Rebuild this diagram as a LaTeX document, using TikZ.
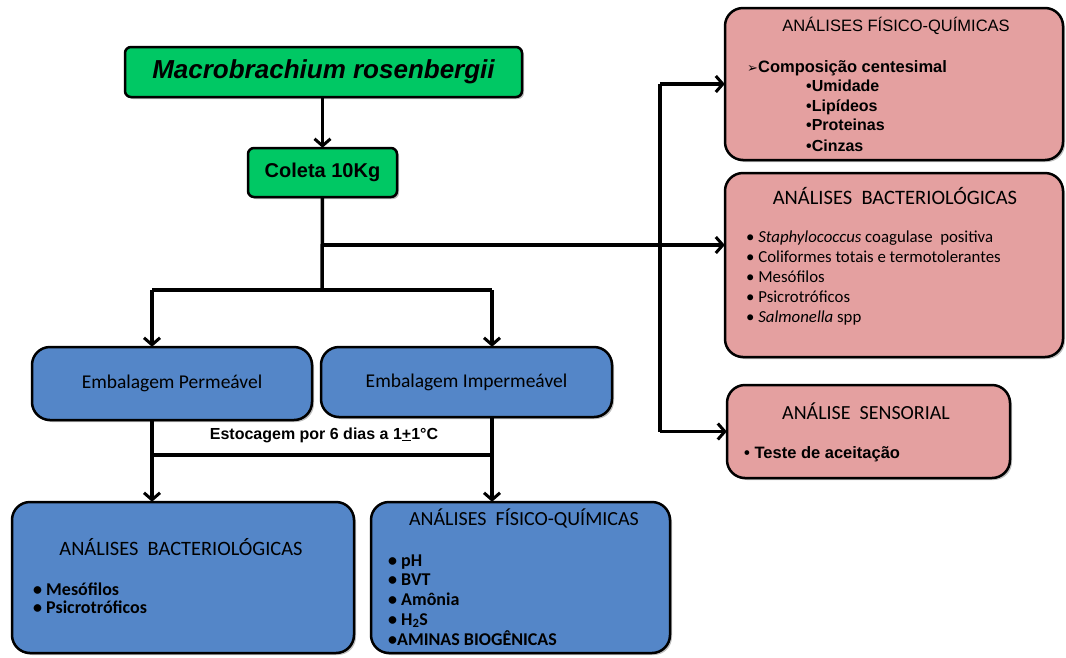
\documentclass[tikz,border=0pt]{standalone}
\usepackage{fontspec}
\setmainfont{Carlito}
\newfontfamily\arial{Liberation Sans}
\newfontfamily\symf{DejaVu Sans}
\usetikzlibrary{arrows.meta,shadows}
\definecolor{grn}{RGB}{0,200,100}
\definecolor{pnk}{RGB}{228,160,160}
\definecolor{blu}{RGB}{84,134,200}
\tikzset{
  box/.style={draw=black, line width=2.5pt, drop shadow={shadow xshift=2pt,shadow yshift=-2pt,opacity=0.5}},
  gbox/.style={box, fill=grn, rounded corners=6pt},
  pbox/.style={box, fill=pnk, rounded corners=18pt},
  bbox/.style={box, fill=blu, rounded corners=18pt},
  conn/.style={line width=3.5pt},
  arr/.style={conn, -{Straight Barb[length=7pt,width=16pt,line width=3pt]}},
  txt/.style={inner sep=0pt, anchor=base west},
  ctxt/.style={inner sep=0pt, anchor=base},
}
\begin{document}
\begin{tikzpicture}[x=1pt,y=-1pt]
\useasboundingbox (0,0) rectangle (1066,657);
% boxes
\path[gbox] (125,47) rectangle (522,97);
\node (macro) at (323.5,72) [minimum width=397pt, minimum height=50pt, inner sep=0pt] {\arial\bfseries\itshape\fontsize{26}{30}\selectfont Macrobrachium rosenbergii};
\path[gbox] (248,148) rectangle (397,197);
\node (coleta) at (322.5,172.5) [minimum width=149pt, minimum height=49pt, inner sep=0pt] {\arial\bfseries\fontsize{20}{24}\selectfont Coleta 10Kg};

\path[pbox] (725,8) rectangle (1063,160);
\node (p1) at (894,84) [minimum width=338pt, minimum height=152pt, inner sep=0pt] {};
\path[pbox] (725,173) rectangle (1063,357);
\node (p2) at (894,265) [minimum width=338pt, minimum height=184pt, inner sep=0pt] {};
\path[pbox] (727,385) rectangle (1010,478);
\node (p3) at (868.5,431.5) [minimum width=283pt, minimum height=93pt, inner sep=0pt] {};

\path[bbox] (32,347) rectangle (312,420);
\node (perm) at (172,383.5) [minimum width=280pt, minimum height=73pt, inner sep=0pt] {\fontsize{19.5}{23}\selectfont Embalagem Permeável};
\path[bbox] (321,347) rectangle (612,417);
\node (imp) at (466.5,382) [minimum width=291pt, minimum height=70pt, inner sep=0pt] {\fontsize{19.5}{23}\selectfont Embalagem Impermeável};

\path[bbox] (12,502) rectangle (354,653);
\node (bac) at (183,577.5) [minimum width=342pt, minimum height=151pt, inner sep=0pt] {};
\path[bbox] (371,502) rectangle (670,653);
\node (fq) at (520.5,577.5) [minimum width=299pt, minimum height=151pt, inner sep=0pt] {};

% pink 1 text
\node[ctxt] (p1t) at (896,31) {\arial\fontsize{16.5}{19}\selectfont ANÁLISES FÍSICO-QUÍMICAS};
\node[txt] (p1a) at (747,72) {\arial\bfseries\fontsize{16.5}{19}\selectfont{\symf\fontsize{13}{15}\selectfont ➢}Composição centesimal};
\node[txt] (p1b) at (806,91) {\arial\bfseries\fontsize{16}{20}\selectfont •Umidade};
\node[txt] (p1c) at (806,111) {\arial\bfseries\fontsize{16}{20}\selectfont •Lipídeos};
\node[txt] (p1d) at (806,130) {\arial\bfseries\fontsize{16}{20}\selectfont •Proteinas};
\node[txt] (p1e) at (806,151) {\arial\bfseries\fontsize{16}{20}\selectfont •Cinzas};

% pink 2 text
\node[ctxt] (p2t) at (895,204) {\fontsize{20.5}{24}\selectfont ANÁLISES\ \ BACTERIOLÓGICAS};
\node[txt] (p2a) at (746,242) {\fontsize{16.8}{20}\selectfont • \textit{Staphylococcus} coagulase\ \ positiva};
\node[txt] (p2b) at (746,262) {\fontsize{16.8}{20}\selectfont • Coliformes totais e termotolerantes};
\node[txt] (p2c) at (746,282) {\fontsize{16.8}{20}\selectfont • Mesófilos};
\node[txt] (p2d) at (746,302) {\fontsize{16.8}{20}\selectfont • Psicrotróficos};
\node[txt] (p2e) at (746,322) {\fontsize{16.8}{20}\selectfont • \textit{Salmonella} spp};

% pink 3 text
\node[ctxt] (p3t) at (866,419) {\fontsize{20}{24}\selectfont ANÁLISE\ \ SENSORIAL};
\node[txt] (p3a) at (744,458) {\arial\bfseries\fontsize{16.5}{20}\selectfont • Teste de aceitação};

% storage text
\node[ctxt] (est) at (324,439) {\arial\bfseries\fontsize{16}{19}\selectfont Estocagem por 6 dias a 1\underline{+}1°C};

% bottom left text
\node[ctxt] (bact) at (181,555) {\fontsize{20.4}{24}\selectfont ANÁLISES\ \ BACTERIOLÓGICAS};
\node[txt] (baca) at (33,595) {\bfseries\fontsize{18}{21}\selectfont • Mesófilos};
\node[txt] (bacb) at (33,613) {\bfseries\fontsize{18}{21}\selectfont • Psicrotróficos};

% bottom right text
\node[ctxt] (fqt) at (524,525) {\fontsize{20}{24}\selectfont ANÁLISES\ \ FÍSICO-QUÍMICAS};
\node[txt] (fqa) at (388,566) {\bfseries\fontsize{18}{21}\selectfont • pH};
\node[txt] (fqb) at (388,585) {\bfseries\fontsize{18}{21}\selectfont • BVT};
\node[txt] (fqc) at (388,605) {\bfseries\fontsize{18}{21}\selectfont • Amônia};
\node[txt] (fqd) at (388,625) {\bfseries\fontsize{18}{21}\selectfont • H\textsubscript{2}S};
\node[txt] (fqe) at (388,645) {\bfseries\fontsize{18}{21}\selectfont •AMINAS BIOGÊNICAS};

% junctions
\coordinate (j1) at (322,290);
\coordinate (jb) at (322,245);
\coordinate (jl) at (152,290);
\coordinate (jr) at (492,290);
\coordinate (vt) at (660,84);
\coordinate (vb) at (660,431.5);
\coordinate (sl) at (152,455);
\coordinate (sr) at (492,455);

% connectors
\draw[arr] (coleta.north |- macro.south) -- (coleta.north);
\draw[conn] (coleta.south) -- (j1);
\draw[arr] (jb) -- (jb -| p2.west);
\draw[conn] (vt) -- (vb);
\draw[arr] (vt) -- (p1.west);
\draw[arr] (vb) -- (p3.west);
\draw[conn] (jl) -- (jr);
\draw[arr] (jl) -- (jl |- perm.north);
\draw[arr] (jr) -- (jr |- imp.north);
\draw[arr] (jl |- perm.south) -- (jl |- bac.north);
\draw[arr] (jr |- imp.south) -- (jr |- fq.north);
\draw[conn] (sl) -- (sr);
\end{tikzpicture}
\end{document}
